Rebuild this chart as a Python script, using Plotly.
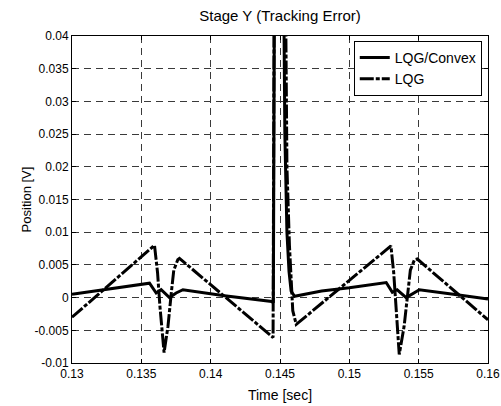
import plotly.graph_objects as go

# LQG/Convex (solid)
t_convex = [0.1300, 0.1340, 0.13559, 0.13607, 0.13643, 0.13703, 0.13751, 0.1380,
            0.1410, 0.1444, 0.14452, 0.14462, 0.14522, 0.14535, 0.14550,
            0.14565, 0.14580, 0.14605, 0.1470, 0.1480, 0.1500, 0.15266,
            0.15310, 0.15345, 0.15410, 0.15505, 0.1575, 0.1600]
v_convex = [0.0005, 0.0017, 0.0022, 0.0007, 0.0012, 0.0000, 0.0007, 0.0012,
            0.0003, -0.0006, -0.0008, 0.0600, 0.0600, 0.0250, 0.0100,
            0.0040, 0.0010, 0.0002, 0.0006, 0.0010, 0.0015, 0.0023,
            0.0008, 0.0012, 0.0000, 0.0012, 0.0005, -0.0002]

# LQG (dash-dot)
t_lqg = [0.1300, 0.13595, 0.13617, 0.13634, 0.13664, 0.13692, 0.13716, 0.13734,
         0.13763, 0.13775, 0.1445, 0.14460, 0.14535, 0.14550, 0.14568,
         0.14592, 0.14617, 0.1530, 0.15320, 0.15338, 0.1536, 0.15395,
         0.15420, 0.15440, 0.15470, 0.1549, 0.1600]
v_lqg = [-0.0030, 0.0080, 0.0038, -0.0013, -0.0084, -0.0044, 0.0007, 0.0042,
         0.0058, 0.0060, -0.0061, 0.0600, 0.0600, 0.0200, 0.0080,
         -0.0020, -0.0041, 0.0079, 0.0038, -0.0013, -0.0087, -0.0044,
         0.0007, 0.0042, 0.0058, 0.0059, -0.0034]

x_ticks = [0.13, 0.135, 0.14, 0.145, 0.15, 0.155, 0.16]
x_ticktext = ["0.13", "0.135", "0.14", "0.145", "0.15", "0.155", "0.16"]
y_ticks = [-0.01, -0.005, 0, 0.005, 0.01, 0.015, 0.02, 0.025, 0.03, 0.035, 0.04]
y_ticktext = ["-0.01", "-0.005", "0", "0.005", "0.01", "0.015", "0.02",
              "0.025", "0.03", "0.035", "0.04"]

fig = go.Figure()
fig.add_trace(go.Scatter(x=t_convex, y=v_convex, mode="lines", name="LQG/Convex",
                         line=dict(color="black", width=3)))
fig.add_trace(go.Scatter(x=t_lqg, y=v_lqg, mode="lines", name="LQG",
                         line=dict(color="black", width=3, dash="14px,2px,4px,2px")))

font = "Liberation Sans, Arial, sans-serif"
axis_common = dict(showline=True, linecolor="black", linewidth=1, mirror="ticks",
                   ticks="inside", ticklen=4, tickcolor="black", automargin=False,
                   showgrid=True, gridcolor="#3a3a3a", griddash="7px,5px", gridwidth=1,
                   zeroline=False, tickfont=dict(family=font, size=12, color="black"))

fig.update_layout(
    width=501, height=406,
    margin=dict(l=72, r=13, t=36, b=43),
    paper_bgcolor="white", plot_bgcolor="white",
    title=dict(text="Stage Y (Tracking Error)", x=0.5, xref="paper", xanchor="center",
               y=1 - 16 / 406, yref="container", yanchor="middle",
               font=dict(family=font, size=15, color="black")),
    xaxis=dict(range=[0.13, 0.16], tickvals=x_ticks, ticktext=x_ticktext,
               title=dict(text="Time [sec]", standoff=9,
                          font=dict(family=font, size=14, color="black")),
               **axis_common),
    yaxis=dict(range=[-0.01, 0.04], tickvals=y_ticks, ticktext=y_ticktext,
               title=dict(text="Position [V]", standoff=0,
                          font=dict(family=font, size=13, color="black")),
               **axis_common),
    showlegend=True,
    legend=dict(x=0.985, y=0.985, xanchor="right", yanchor="top",
                bgcolor="white", bordercolor="black", borderwidth=1,
                font=dict(family=font, size=14, color="black"),
                tracegroupgap=0),
)

fig.write_html("out.html")
